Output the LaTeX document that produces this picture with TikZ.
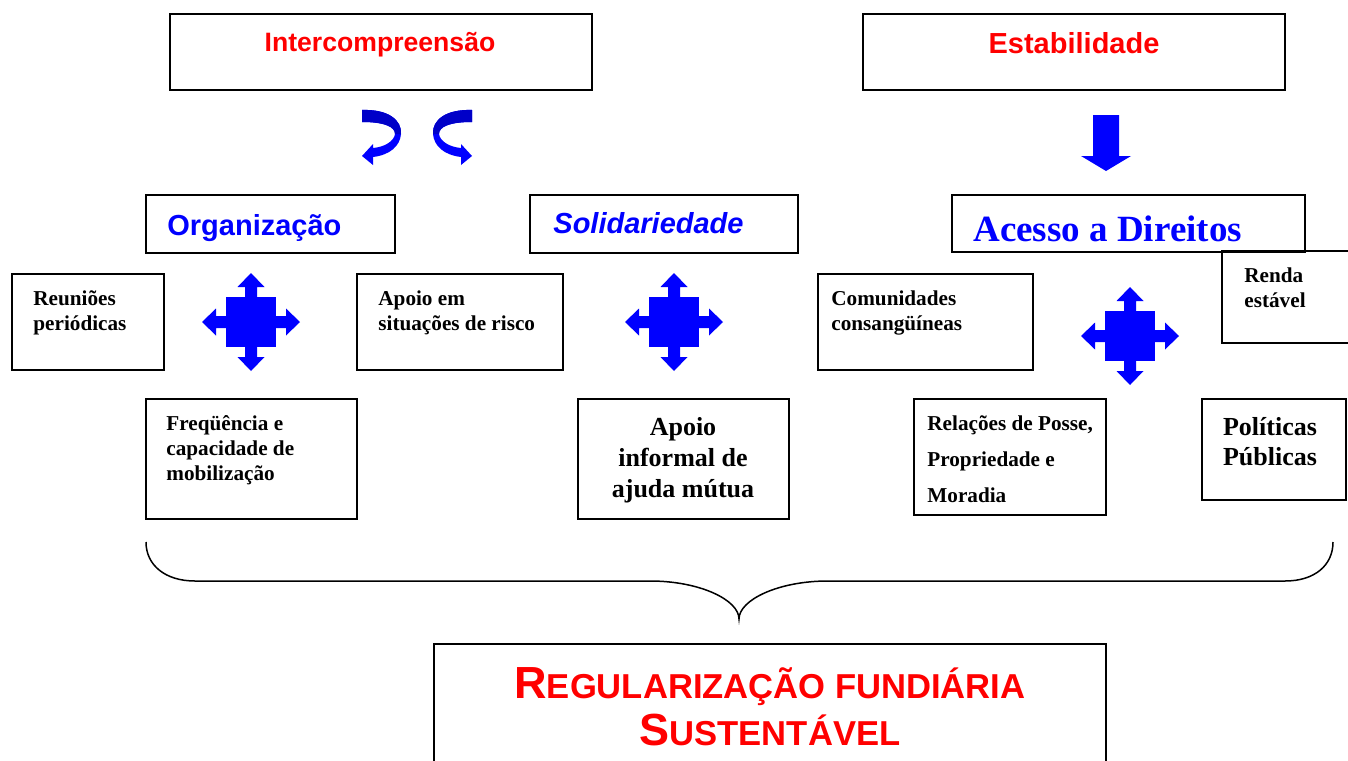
\documentclass[tikz,border=0pt]{standalone}
\usepackage{fontspec}
\setmainfont{Liberation Serif}
\newfontfamily\arialfont{Liberation Sans}
\usetikzlibrary{fit}
\definecolor{tblue}{RGB}{0,0,255}
\definecolor{dblue}{RGB}{0,0,200}
\definecolor{tred}{RGB}{255,0,0}
\newcommand\largeinitial[1]{{\fontsize{22.5}{23.5}\selectfont #1}}

\begin{document}
\begin{tikzpicture}[x=0.5pt, y=-0.5pt,
        box/.style={draw, line width=1pt, inner sep=0pt},
        redttl/.style={inner sep=0pt, text=tred, font=\arialfont\bfseries\fontsize{14.5}{17}\selectfont},
        bluettl/.style={inner sep=0pt, text=tblue, font=\arialfont\bfseries\fontsize{14.5}{17}\selectfont},
        smalltxt/.style={inner sep=0pt, align=left, font=\bfseries\fontsize{10.6}{12.5}\selectfont},
        midtxt/.style={inner sep=0pt, align=center, font=\bfseries\fontsize{13}{15.5}\selectfont}
      ]
      \useasboundingbox (0,0) rectangle (1348,760);
      \clip (0,0) rectangle (1348,760);

      % top row
      \node[box, fit={(170,14) (592,90)}] (inter) {};
      \node[redttl, font=\arialfont\bfseries\fontsize{13.3}{16}\selectfont, anchor=base] at (380,51) (intertxt) {Intercompreensão};
      \node[box, fit={(863,14) (1285,90)}] (estab) {};
      \node[redttl, anchor=base] at (1074,53) (estabtxt) {Estabilidade};

      % curved arrows
      \fill[tblue] (362,110) .. controls (388,109) and (402,120) .. (401,134)
        .. controls (400,146) and (390,155) .. (373,157) -- (373,165) -- (362,156) -- (373,144) -- (373,148)
        .. controls (385,147) and (394,141) .. (395,134) .. controls (395,127) and (385,122) .. (362,122) -- cycle;
      \fill[dblue] (362,110) .. controls (388,109) and (402,120) .. (401,134) -- (395,134)
        .. controls (395,127) and (385,122) .. (362,122) -- cycle;
      \begin{scope}[shift={(834,0)}, xscale=-1]
        \fill[tblue] (362,110) .. controls (388,109) and (402,120) .. (401,134)
          .. controls (400,146) and (390,155) .. (373,157) -- (373,165) -- (362,156) -- (373,144) -- (373,148)
          .. controls (385,147) and (394,141) .. (395,134) .. controls (395,127) and (385,122) .. (362,122) -- cycle;
        \fill[dblue] (362,110) .. controls (388,109) and (402,120) .. (401,134) -- (395,134)
          .. controls (395,127) and (385,122) .. (362,122) -- cycle;
      \end{scope}

      % down arrow
      \fill[tblue] (1093,115) -- (1119,115) -- (1119,156) -- (1131,156) -- (1106,171) -- (1081,156) -- (1093,156) -- cycle;

      % second row
      \node[box, fit={(146,195) (395,253)}] (org) {};
      \node[bluettl, anchor=base west] at (167,235) (orgtxt) {Organização};
      \node[box, fit={(530,195) (798,253)}] (solid) {};
      \node[bluettl, font=\arialfont\bfseries\itshape\fontsize{14.5}{17}\selectfont, anchor=base west] at (553,233) (solidtxt) {Solidariedade};
      \node[box, fit={(952,195) (1305,252)}] (acesso) {};
      \node[inner sep=0pt, text=tblue, font=\bfseries\fontsize{18.5}{21}\selectfont, anchor=base west] at (973,241) (acessotxt) {Acesso a Direitos};
      \node[box, fit={(1222,251) (1370,343)}] (renda) {};
      \node[smalltxt, anchor=base west] at (1244,307) (rendatxt) {Renda\\estável};

      % third row
      \node[box, fit={(12,274) (164,370)}] (reun) {};
      \node[smalltxt, anchor=base west] at (33,330) (reuntxt) {Reuniões\\periódicas};
      \node[box, fit={(357,274) (563,370)}] (risco) {};
      \node[smalltxt, anchor=base west] at (378,330) (riscotxt) {Apoio em\\situações de risco};
      \node[box, fit={(818,274) (1033,370)}] (comun) {};
      \node[smalltxt, anchor=base west] at (831,330) (comuntxt) {Comunidades\\consangüíneas};

      % cross arrows
      \foreach \cx/\cy in {251/322, 674/322, 1130/336} {
        \fill[tblue] (\cx-25,\cy-25) rectangle (\cx+25,\cy+25);
        \foreach \a in {0,90,180,270}
          \fill[tblue, shift={(\cx,\cy)}, rotate=\a] (24,-6) -- (35,-6) -- (35,-13.5) -- (49,0) -- (35,13.5) -- (35,6) -- (24,6) -- cycle;
      }

      % fourth row
      \node[box, fit={(146,399) (357,519)}] (freq) {};
      \node[smalltxt, anchor=base west] at (166,480) (freqtxt) {Freqüência e\\capacidade de\\mobilização};
      \node[box, fit={(578,399) (789,519)}] (mutua) {};
      \node[midtxt, anchor=base] at (683,497) (mutuatxt) {Apoio\\informal de\\ajuda mútua};
      \node[box, fit={(914,399) (1106,515)}] (posse) {};
      \node[smalltxt, font=\bfseries\fontsize{10.6}{18}\selectfont, anchor=base west] at (927,502) (possetxt) {Relações de Posse,\\Propriedade e\\Moradia};
      \node[box, fit={(1202,399) (1346,500)}] (polit) {};
      \node[midtxt, font=\bfseries\fontsize{13}{15}\selectfont, anchor=base] at (1270,465) (polittxt) {Políticas\\Públicas};

      % brace
      \draw[line width=0.75pt] (146,542) .. controls (146,565) and (165,581) .. (195,581) -- (650,581)
        .. controls (700,581) and (739,600) .. (739,619) .. controls (739,600) and (778,581) .. (828,581)
        -- (1285,581) .. controls (1315,581) and (1333,565) .. (1333,542);

      % result
      \node[box, fit={(434,644) (1106,780)}] (regul) {};
      \node[redttl, align=center, font=\arialfont\bfseries\fontsize{17.3}{23.5}\selectfont, anchor=base] at (770,745) (regultxt)
        {\largeinitial{R}EGULARIZAÇÃO FUNDIÁRIA\\\largeinitial{S}USTENTÁVEL};
  \end{tikzpicture}
\end{document}
